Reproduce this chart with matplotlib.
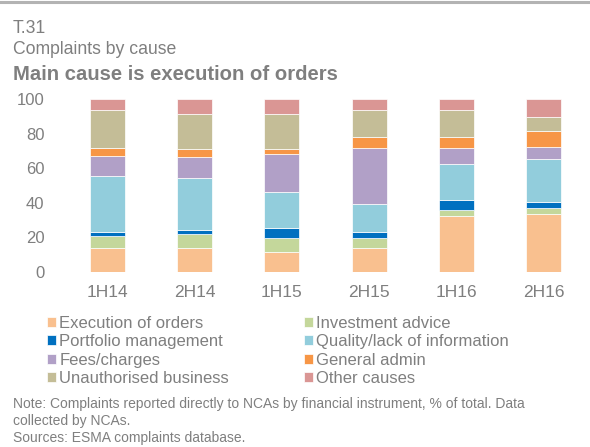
import matplotlib.pyplot as plt
import numpy as np
from matplotlib.lines import Line2D

plt.rcParams['font.family'] = ['Liberation Sans', 'DejaVu Sans']

periods = ['1H14', '2H14', '1H15', '2H15', '1H16', '2H16']
causes = ['Execution of orders', 'Investment advice', 'Portfolio management',
          'Quality/lack of information', 'Fees/charges', 'General admin',
          'Unauthorised business', 'Other causes']
execution = [14.0, 14.0, 11.6, 13.9, 32.2, 33.4]
advice = [7.0, 8.0, 8.1, 5.8, 3.5, 3.5]
portfolio = [2.4, 2.3, 5.8, 3.5, 5.8, 3.3]
quality = [32.0, 30.0, 20.6, 16.0, 20.9, 25.4]
fees = [11.4, 12.4, 21.9, 32.2, 9.0, 6.8]
admin = [4.6, 4.6, 3.2, 6.8, 6.8, 9.3]
unauthorised = [22.2, 20.1, 20.1, 15.2, 15.2, 8.1]
other = [6.4, 8.6, 8.7, 6.6, 6.6, 10.2]
colors = ['#F9C08F', '#C4D79B', '#0070C0', '#92CDDC',
          '#B1A0C7', '#F79646', '#C4BD97', '#DA9694']

series = [execution, advice, portfolio, quality, fees, admin, unauthorised, other]
grey = '#7f7f7f'

fig = plt.figure(figsize=(5.9, 4.47), dpi=100)
ax = fig.add_axes([64 / 590, (447 - 272) / 447, (587 - 64) / 590, 173 / 447])

x = np.arange(len(periods))
bottom = np.zeros(len(periods))
handles = []
for vals, col, name in zip(series, colors, causes):
    b = ax.bar(x, vals, 0.4, bottom=bottom, color=col, edgecolor='white',
               linewidth=0.5, label=name)
    handles.append(b)
    bottom += np.array(vals)

ax.set_xlim(-0.5, 5.5)
ax.set_ylim(0, 100)
ax.set_xticks(x)
ax.set_xticklabels(periods)
ax.set_yticks([0, 20, 40, 60, 80, 100])
for s in ax.spines.values():
    s.set_visible(False)
ax.tick_params(axis='both', length=0, labelsize=12, colors=grey)
ax.tick_params(axis='y', pad=14)
ax.tick_params(axis='x', pad=9.5, labelsize=12.5)

# legend in two columns, row by row
left = [handles[i] for i in (0, 2, 4, 6)]
right = [handles[i] for i in (1, 3, 5, 7)]
for hs, xpos in ((left, 47 / 590), (right, 304 / 590)):
    fig.legend(handles=hs, labels=[h.get_label() for h in hs],
               loc='upper left', bbox_to_anchor=(xpos, 1 - 316 / 447),
               frameon=False, fontsize=12, labelcolor=grey,
               handlelength=0.55, handleheight=0.55, handletextpad=0.2,
               labelspacing=0.2, borderpad=0, borderaxespad=0)

fig.add_artist(Line2D([0, 1], [1 - 1.5 / 447, 1 - 1.5 / 447],
                      color='#b3b3b3', linewidth=2.2))
fig.text(13 / 590, 1 - 33 / 447, 'T.31', fontsize=12.7, color=grey, va='baseline')
fig.text(13 / 590, 1 - 54 / 447, 'Complaints by cause', fontsize=12.7,
         color=grey, va='baseline')
fig.text(13 / 590, 1 - 80 / 447, 'Main cause is execution of orders',
         fontsize=14.6, fontweight='bold', color=grey, va='baseline')

fig.text(13 / 590, 1 - 408 / 447,
         'Note: Complaints reported directly to NCAs by financial instrument, % of total. Data',
         fontsize=10, color=grey, va='baseline')
fig.text(13 / 590, 1 - 425 / 447, 'collected by NCAs.', fontsize=10,
         color=grey, va='baseline')
fig.text(13 / 590, 1 - 442 / 447, 'Sources: ESMA complaints database.',
         fontsize=10, color=grey, va='baseline')

fig.savefig('out.png', dpi=100)
